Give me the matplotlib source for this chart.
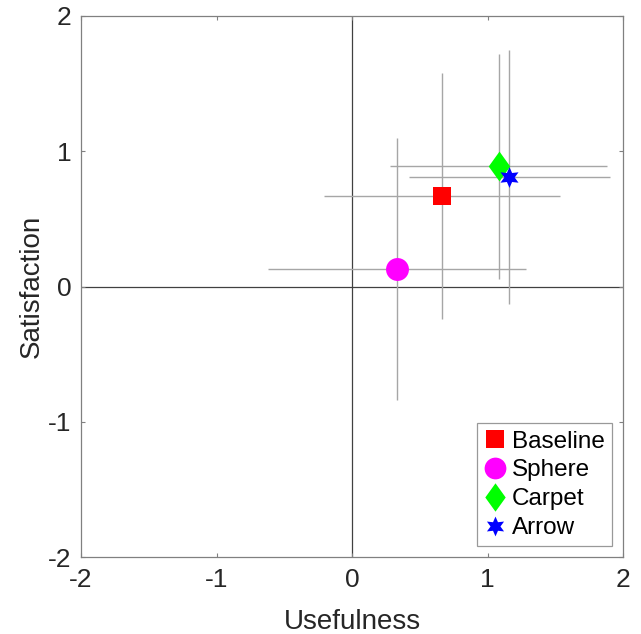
import matplotlib
matplotlib.use("Agg")
import matplotlib.pyplot as plt

plt.rcParams['font.family'] = ['Liberation Sans', 'DejaVu Sans']
plt.rcParams['axes.unicode_minus'] = False

# datos
names = ["Baseline", "Sphere", "Carpet", "Arrow"]
usefulness = [0.66, 0.33, 1.08, 1.16]
satisfaction = [0.67, 0.13, 0.89, 0.81]
err_useful = [0.87, 0.95, 0.80, 0.74]
err_satisf = [0.91, 0.97, 0.83, 0.94]

colors = ["#ff0000", "#ff00ff", "#00ff00", "#0000ff"]
diamond = [(0, 1), (0.72, 0), (0, -1), (-0.72, 0), (0, 1)]
markers = ["s", "o", diamond, (6, 1, 0)]
sizes = [13, 16.5, 21.5, 15]

fig = plt.figure(figsize=(6.41, 6.34), dpi=100)
ax = fig.add_axes([0.1264, 0.121, 0.846, 0.8538])

ax.axhline(0, color="#404040", lw=0.9, zorder=1)
ax.axvline(0, color="#404040", lw=0.9, zorder=1)

for i, name in enumerate(names):
    ax.errorbar(usefulness[i], satisfaction[i],
                xerr=err_useful[i], yerr=err_satisf[i],
                fmt="none", ecolor="#a6a6a6", elinewidth=1.0, capsize=0, zorder=2)
for i, name in enumerate(names):
    ax.plot(usefulness[i], satisfaction[i], linestyle="none",
            marker=markers[i], markersize=sizes[i],
            color=colors[i], markeredgewidth=0, label=name, zorder=3)

ax.set_xlim(-2, 2)
ax.set_ylim(-2, 2)
ax.set_xticks([-2, -1, 0, 1, 2])
ax.set_yticks([-2, -1, 0, 1, 2])
ax.tick_params(direction="in", length=3, width=0.8, colors="#808080",
               labelcolor="#262626", labelsize=19, top=True, right=True,
               labeltop=False, labelright=False)
ax.tick_params(axis="x", pad=8)
ax.tick_params(axis="y", pad=7)
for s in ax.spines.values():
    s.set_color("#808080")
    s.set_linewidth(0.9)

ax.set_xlabel("Usefulness", fontsize=20, color="#262626", labelpad=12)
ax.set_ylabel("Satisfaction", fontsize=20, color="#262626", labelpad=2)

leg = ax.legend(loc="lower right", fontsize=17.5, frameon=True, fancybox=False,
                edgecolor="#808080", handlelength=0.9, handletextpad=0.25,
                borderpad=0.3, labelspacing=0.28, borderaxespad=0.45,
                markerscale=0.95)
leg.get_frame().set_linewidth(0.9)

fig.savefig("out.png", dpi=100)
